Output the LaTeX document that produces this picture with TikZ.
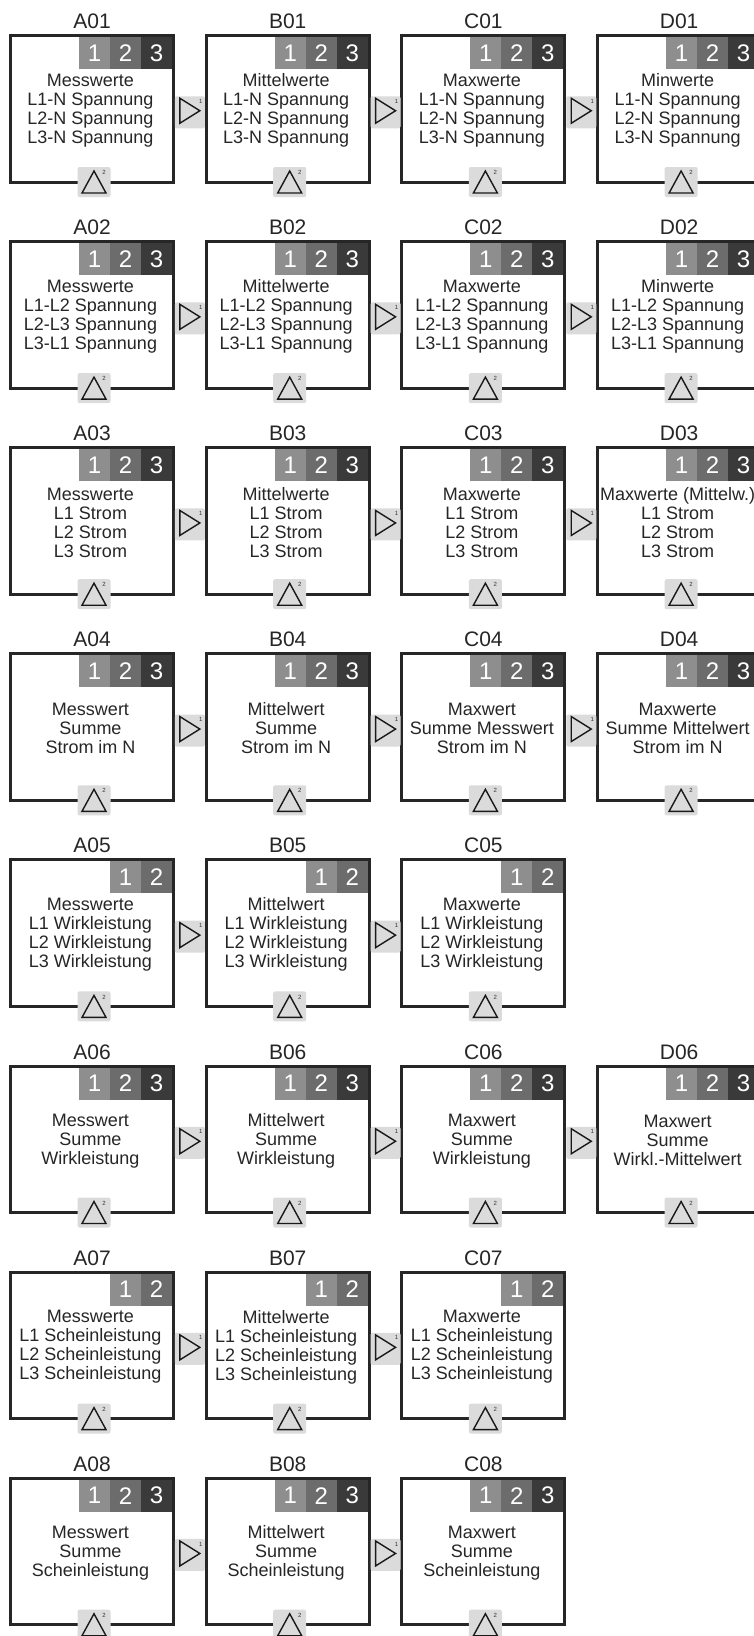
\documentclass[tikz,border=0pt]{standalone}
\usepackage{fontspec}
\setmainfont{Liberation Sans}
\usetikzlibrary{calc}
\definecolor{cA}{HTML}{8E8E8E}
\definecolor{cB}{HTML}{6C6C6C}
\definecolor{cC}{HTML}{3A3A3A}
\definecolor{frame}{HTML}{262626}
\definecolor{tabgray}{HTML}{DBDBDB}
\tikzset{
  panelbox/.style={draw=frame, line width=3pt, minimum width=163pt, minimum height=146.5pt, inner sep=0pt, outer sep=0pt},
  titletext/.style={font=\fontsize{21}{21}\selectfont, inner sep=0pt, text=black!85},
  bodytext/.style={font=\fontsize{18}{19}\selectfont, align=center, inner sep=0pt, text=black!85},
  cell/.style={minimum width=31pt, minimum height=32pt, inner sep=0pt, outer sep=0pt, text=white, font=\fontsize{24}{24}\selectfont},
  tab/.style={fill=tabgray, rounded corners=2pt, inner sep=0pt, outer sep=0pt},
  tri/.style={draw=black!90, line width=1.4pt},
  supnum/.style={font=\fontsize{6}{6}\selectfont, inner sep=0pt, text=black!80},
}
\newcommand\mypanel[5]{%
  \pgfmathsetmacro\Lx{9+195.7*#2}%
  \pgfmathsetmacro\Ty{34+206.1*#3}%
  \node[panelbox] (#1) at (\Lx+83,\Ty+74.75) {};
  \node[titletext, anchor=base] (#1t) at ([yshift=7pt]#1.north) {#1};
  \node[bodytext] (#1b) at ([shift={(-1.5pt,-1.5pt)}]#1.center) {#5};
  \ifnum#4=3
    \node[cell, fill=cC, anchor=north east] (#1c3) at ([shift={(-1.5pt,-1.5pt)}]#1.north east) {3};
    \node[cell, fill=cB, anchor=north east] (#1c2) at (#1c3.north west) {2};
  \else
    \node[cell, fill=cB, anchor=north east] (#1c2) at ([shift={(-1.5pt,-1.5pt)}]#1.north east) {2};
  \fi
  \node[cell, fill=cA, anchor=north east] (#1c1) at (#1c2.north west) {1};
  \node[tab, minimum width=33pt, minimum height=30pt] (#1d) at ([xshift=2pt]#1.south) {};
  \draw[tri] ([yshift=11pt]#1d.center) -- ([shift={(12pt,-11pt)}]#1d.center) -- ([shift={(-12pt,-11pt)}]#1d.center) -- cycle;
  \node[supnum] (#1ds) at ([shift={(10pt,9.5pt)}]#1d.center) {2};
}
\newcommand\myarrow[2]{%
  \node[tab, minimum width=30pt, minimum height=32pt] (#1#2) at ($(#1.east)!0.5!(#2.west)+(0,3.5)$) {};
  \draw[tri] ([shift={(-10pt,14pt)}]#1#2.center) -- ([shift={(10pt,1.5pt)}]#1#2.center) -- ([shift={(-10pt,-11pt)}]#1#2.center) -- cycle;
  \node[supnum] (#1#2s) at ([shift={(11pt,11pt)}]#1#2.center) {1};
}
\begin{document}
\begin{tikzpicture}[x=1pt, y=-1pt]
\useasboundingbox (0,0) rectangle (754,1636);
\clip (0,0) rectangle (754,1636);
\fill[white] (0,0) rectangle (754,1636);
% row 1
\mypanel{A01}{0}{0}{3}{Messwerte\\L1-N Spannung\\L2-N Spannung\\L3-N Spannung}
\mypanel{B01}{1}{0}{3}{Mittelwerte\\L1-N Spannung\\L2-N Spannung\\L3-N Spannung}
\mypanel{C01}{2}{0}{3}{Maxwerte\\L1-N Spannung\\L2-N Spannung\\L3-N Spannung}
\mypanel{D01}{3}{0}{3}{Minwerte\\L1-N Spannung\\L2-N Spannung\\L3-N Spannung}
% row 2
\mypanel{A02}{0}{1}{3}{Messwerte\\L1-L2 Spannung\\L2-L3 Spannung\\L3-L1 Spannung}
\mypanel{B02}{1}{1}{3}{Mittelwerte\\L1-L2 Spannung\\L2-L3 Spannung\\L3-L1 Spannung}
\mypanel{C02}{2}{1}{3}{Maxwerte\\L1-L2 Spannung\\L2-L3 Spannung\\L3-L1 Spannung}
\mypanel{D02}{3}{1}{3}{Minwerte\\L1-L2 Spannung\\L2-L3 Spannung\\L3-L1 Spannung}
% row 3
\mypanel{A03}{0}{2}{3}{Messwerte\\L1 Strom\\L2 Strom\\L3 Strom}
\mypanel{B03}{1}{2}{3}{Mittelwerte\\L1 Strom\\L2 Strom\\L3 Strom}
\mypanel{C03}{2}{2}{3}{Maxwerte\\L1 Strom\\L2 Strom\\L3 Strom}
\mypanel{D03}{3}{2}{3}{Maxwerte (Mittelw.)\\L1 Strom\\L2 Strom\\L3 Strom}
% row 4
\mypanel{A04}{0}{3}{3}{Messwert\\Summe\\Strom im N}
\mypanel{B04}{1}{3}{3}{Mittelwert\\Summe\\Strom im N}
\mypanel{C04}{2}{3}{3}{Maxwert\\Summe Messwert\\Strom im N}
\mypanel{D04}{3}{3}{3}{Maxwerte\\Summe Mittelwert\\Strom im N}
% row 5
\mypanel{A05}{0}{4}{2}{Messwerte\\L1 Wirkleistung\\L2 Wirkleistung\\L3 Wirkleistung}
\mypanel{B05}{1}{4}{2}{Mittelwert\\L1 Wirkleistung\\L2 Wirkleistung\\L3 Wirkleistung}
\mypanel{C05}{2}{4}{2}{Maxwerte\\L1 Wirkleistung\\L2 Wirkleistung\\L3 Wirkleistung}
% row 6
\mypanel{A06}{0}{5}{3}{Messwert\\Summe\\Wirkleistung}
\mypanel{B06}{1}{5}{3}{Mittelwert\\Summe\\Wirkleistung}
\mypanel{C06}{2}{5}{3}{Maxwert\\Summe\\Wirkleistung}
\mypanel{D06}{3}{5}{3}{Maxwert\\Summe\\Wirkl.-Mittelwert}
% row 7
\mypanel{A07}{0}{6}{2}{Messwerte\\L1 Scheinleistung\\L2 Scheinleistung\\L3 Scheinleistung}
\mypanel{B07}{1}{6}{2}{Mittelwerte\\L1 Scheinleistung\\L2 Scheinleistung\\L3 Scheinleistung}
\mypanel{C07}{2}{6}{2}{Maxwerte\\L1 Scheinleistung\\L2 Scheinleistung\\L3 Scheinleistung}
% row 8
\mypanel{A08}{0}{7}{3}{Messwert\\Summe\\Scheinleistung}
\mypanel{B08}{1}{7}{3}{Mittelwert\\Summe\\Scheinleistung}
\mypanel{C08}{2}{7}{3}{Maxwert\\Summe\\Scheinleistung}
% arrows
\myarrow{A01}{B01}\myarrow{B01}{C01}\myarrow{C01}{D01}
\myarrow{A02}{B02}\myarrow{B02}{C02}\myarrow{C02}{D02}
\myarrow{A03}{B03}\myarrow{B03}{C03}\myarrow{C03}{D03}
\myarrow{A04}{B04}\myarrow{B04}{C04}\myarrow{C04}{D04}
\myarrow{A05}{B05}\myarrow{B05}{C05}
\myarrow{A06}{B06}\myarrow{B06}{C06}\myarrow{C06}{D06}
\myarrow{A07}{B07}\myarrow{B07}{C07}
\myarrow{A08}{B08}\myarrow{B08}{C08}
\end{tikzpicture}
\end{document}
